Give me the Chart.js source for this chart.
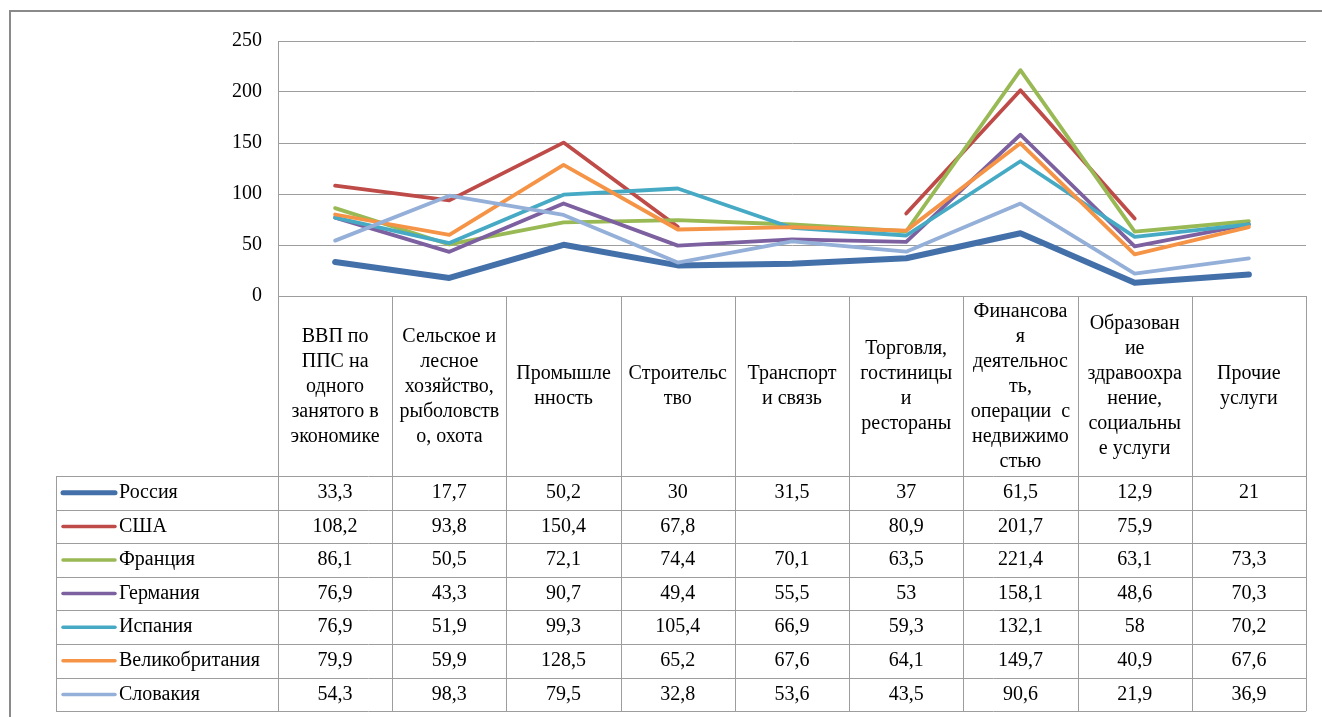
<!DOCTYPE html>
<html><head><meta charset="utf-8">
<script src="https://cdn.jsdelivr.net/npm/chart.js@4.4.1/dist/chart.umd.min.js"></script>
<style>
html,body{margin:0;padding:0;background:#fff;}
#wrap{width:1322px;height:717px;position:relative;}
</style></head>
<body><div id="wrap"><canvas id="c"></canvas></div>
<script>
const categories = [
  ["ВВП по","ППС на","одного","занятого в","экономике"],
  ["Сельское и","лесное","хозяйство,","рыболовств","о, охота"],
  ["Промышле","нность"],
  ["Строительс","тво"],
  ["Транспорт","и связь"],
  ["Торговля,","гостиницы","и","рестораны"],
  ["Финансова","я","деятельнос","ть,","операции  с","недвижимо","стью"],
  ["Образован","ие","здравоохра","нение,","социальны","е услуги"],
  ["Прочие","услуги"]
];
const seriesNames = ["Россия","США","Франция","Германия","Испания","Великобритания","Словакия"];
const russia   = [33.3, 17.7, 50.2, 30, 31.5, 37, 61.5, 12.9, 21];
const usa      = [108.2, 93.8, 150.4, 67.8, null, 80.9, 201.7, 75.9, null];
const france   = [86.1, 50.5, 72.1, 74.4, 70.1, 63.5, 221.4, 63.1, 73.3];
const germany  = [76.9, 43.3, 90.7, 49.4, 55.5, 53, 158.1, 48.6, 70.3];
const spain    = [76.9, 51.9, 99.3, 105.4, 66.9, 59.3, 132.1, 58, 70.2];
const uk       = [79.9, 59.9, 128.5, 65.2, 67.6, 64.1, 149.7, 40.9, 67.6];
const slovakia = [54.3, 98.3, 79.5, 32.8, 53.6, 43.5, 90.6, 21.9, 36.9];
const yTicks = [0, 50, 100, 150, 200, 250];

const seriesValues = [russia, usa, france, germany, spain, uk, slovakia];
const colors = ["#4470AA","#BE4B48","#98B954","#7D60A0","#46AAC5","#F59446","#94AFD8"];
const widths = [6, 3.8, 3.8, 3.8, 3.8, 3.8, 3.8];
const FONT = "'Liberation Serif', 'Times New Roman', serif";
const FS = 20;
const GRID = "#9d9d9d";

const datasets = seriesNames.map((n, i) => ({
  label: n,
  data: seriesValues[i],
  borderColor: colors[i],
  backgroundColor: colors[i],
  borderWidth: widths[i],
  pointRadius: 0,
  tension: 0,
  spanGaps: false,
  borderJoinStyle: 'round',
  borderCapStyle: 'round',
  order: seriesNames.length - i
}));

const fmt = v => (v === null || v === undefined) ? "" : String(v).replace('.', ',');

const tablePlugin = {
  id: 'dataTable',
  afterDraw(chart) {
    const ctx = chart.ctx;
    const ca = chart.chartArea;
    const xs = chart.scales.x;
    const n = categories.length;
    const cw = (ca.right - ca.left) / n;
    const headTop = ca.bottom;
    const headBottom = headTop + 180;
    const rowH = 33.6;
    const tableBottom = headBottom + rowH * seriesNames.length;
    const leftCol = 56;
    ctx.save();
    ctx.strokeStyle = "#8a8a8a";
    ctx.lineWidth = 2;
    ctx.beginPath();
    ctx.moveTo(10, 800); ctx.lineTo(10, 11); ctx.lineTo(1400, 11);
    ctx.stroke();

    ctx.strokeStyle = GRID;
    ctx.lineWidth = 1;
    ctx.beginPath();
    for (let i = 0; i <= n; i++) {
      const x = Math.round(ca.left + i * cw) + 0.5;
      ctx.moveTo(x, headTop); ctx.lineTo(x, tableBottom);
    }
    ctx.moveTo(leftCol + 0.5, headBottom); ctx.lineTo(leftCol + 0.5, tableBottom);
    for (let r = 0; r <= seriesNames.length; r++) {
      const y = Math.round(headBottom + r * rowH) + 0.5;
      ctx.moveTo(leftCol, y); ctx.lineTo(ca.right, y);
    }
    ctx.moveTo(ca.left, Math.round(headTop) + 0.5); ctx.lineTo(ca.right, Math.round(headTop) + 0.5);
    ctx.stroke();

    ctx.fillStyle = "#000";
    ctx.font = FS + "px " + FONT;
    ctx.textBaseline = "middle";
    ctx.textAlign = "center";
    const lh = 25;
    const hc = (headTop + headBottom) / 2 + 0.5;
    categories.forEach((lines, i) => {
      const cx = xs.getPixelForValue(i);
      const y0 = hc - (lines.length - 1) * lh / 2;
      lines.forEach((t, k) => ctx.fillText(t, cx, y0 + k * lh));
    });
    seriesNames.forEach((name, r) => {
      const cy = headBottom + r * rowH + rowH / 2;
      ctx.strokeStyle = colors[r];
      ctx.lineWidth = r === 0 ? 5 : 3.5;
      ctx.lineCap = 'round';
      ctx.beginPath();
      ctx.moveTo(63, cy); ctx.lineTo(115, cy);
      ctx.stroke();
      ctx.textAlign = "left";
      ctx.fillText(name, 119, cy);
      ctx.textAlign = "center";
      seriesValues[r].forEach((v, i) => {
        ctx.fillText(fmt(v), xs.getPixelForValue(i), cy);
      });
    });
    ctx.restore();
  }
};

new Chart(document.getElementById('c'), {
  type: 'line',
  data: { labels: categories.map(c => c.join(' ')), datasets },
  options: {
    responsive: true,
    maintainAspectRatio: false,
    devicePixelRatio: 1,
    animation: false,
    events: [],
    layout: { padding: { left: 0, right: 16, top: 41, bottom: 421 } },
    plugins: { legend: { display: false }, tooltip: { enabled: false } },
    scales: {
      x: { type: 'category', display: false, offset: true },
      y: {
        min: 0, max: 250,
        afterFit(scale) { scale.width = 278; },
        afterBuildTicks(scale) { scale.ticks = yTicks.map(v => ({ value: v })); },
        ticks: { padding: 16, color: "#000", font: { family: FONT, size: FS } },
        grid: { color: GRID, lineWidth: 1, drawTicks: false },
        border: { display: true, color: GRID, width: 1 }
      }
    }
  },
  plugins: [tablePlugin]
});
</script>
</body></html>
